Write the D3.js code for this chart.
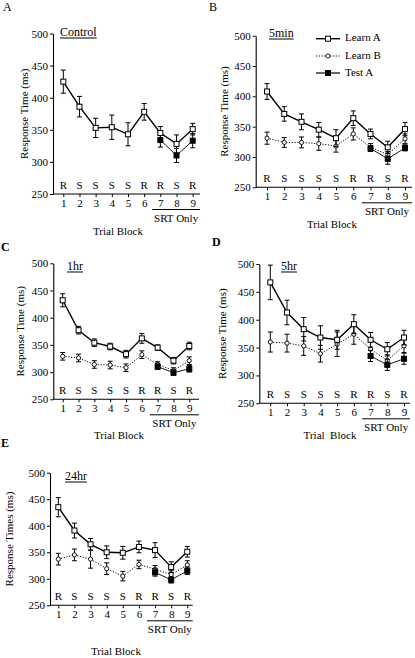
<!DOCTYPE html>
<html>
<head>
<meta charset="utf-8">
<script src="https://cdn.jsdelivr.net/npm/d3@7/dist/d3.min.js"></script>
<style>
  html, body { margin: 0; padding: 0; background: #fff; }
  svg text { font-family: "Liberation Serif", "DejaVu Serif", "Times New Roman", serif; }
</style>
</head>
<body>
<svg id="chart" width="415" height="658"></svg>
<script>
// ---------- data ----------
const trialBlocks = [1, 2, 3, 4, 5, 6, 7, 8, 9];
const trialTypes = ["R", "S", "S", "S", "S", "R", "R", "S", "R"];
const testBlocks = [7, 8, 9];
const yTickValues = [250, 300, 350, 400, 450, 500];
const seriesNames = ["Learn A", "Learn B", "Test A"];

// Panel A: Control
const controlLearnA = [425, 386, 353, 354, 343, 378, 345, 328, 351];
const controlLearnAErr = [18, 16, 15, 19, 18, 13, 10, 14, 9];
const controlTestA = [334, 310, 333];
const controlTestAErr = [11, 11, 11];

// Panel B: 5min
const min5LearnA = [408, 371, 358, 345, 331, 364, 338, 316, 346];
const min5LearnAErr = [13, 12, 13, 12, 14, 12, 8, 10, 11];
const min5LearnB = [331, 324, 324, 322, 318, 338, 316, 304, 330];
const min5LearnBErr = [10, 8, 9, 11, 10, 10, 6, 5, 8];
const min5TestA = [314, 297, 315];
const min5TestAErr = [5, 9, 5];

// Panel C: 1hr
const hr1LearnA = [432, 377, 354, 347, 333, 362, 345, 321, 348];
const hr1LearnAErr = [12, 7, 7, 6, 7, 9, 5, 6, 7];
const hr1LearnB = [329, 326, 314, 313, 308, 332, 314, 303, 321];
const hr1LearnBErr = [7, 7, 7, 7, 7, 7, 5, 5, 7];
const hr1TestA = [310, 299, 306];
const hr1TestAErr = [5, 5, 6];

// Panel D: 5hr
const hr5LearnA = [467, 413, 383, 368, 364, 392, 364, 347, 368];
const hr5LearnAErr = [31, 22, 21, 21, 17, 17, 13, 12, 13];
const hr5LearnB = [360, 358, 353, 339, 356, 374, 347, 327, 353];
const hr5LearnBErr = [18, 16, 17, 15, 22, 18, 13, 10, 12];
const hr5TestA = [335, 319, 330];
const hr5TestAErr = [10, 10, 10];

// Panel E: 24hr
const hr24LearnA = [435, 391, 365, 350, 349, 360, 354, 322, 351];
const hr24LearnAErr = [18, 14, 11, 12, 12, 11, 14, 10, 10];
const hr24LearnB = [337, 345, 337, 319, 305, 327, 318, 308, 326];
const hr24LearnBErr = [11, 11, 17, 11, 9, 8, 7, 7, 8];
const hr24TestA = [312, 298, 315];
const hr24TestAErr = [7, 6, 7];

// ---------- layout ----------
const panels = [
  { letter: "A", lx: 3, ly: 8, bold: false, cond: "Control", condX: 60, condY: 33,
    axisX: 53, axisEnd: 200, x1: 63.3, x9: 192.7, yTop: 33.5, yBot: 194,
    title: "Response Time (ms)", titleX: 25, trial: "Trial Block", trialX: 118, trialY: 232,
    learnA: controlLearnA, learnAErr: controlLearnAErr, learnB: null, learnBErr: null,
    testA: controlTestA, testAErr: controlTestAErr, legend: false },
  { letter: "B", lx: 209, ly: 8, bold: false, cond: "5min", condX: 269, condY: 34,
    axisX: 255.7, axisEnd: 412, x1: 267, x9: 405, yTop: 35.7, yBot: 187.3,
    title: "Response Time (ms)", titleX: 225.7, trial: "Trial Block", trialX: 332, trialY: 225,
    learnA: min5LearnA, learnAErr: min5LearnAErr, learnB: min5LearnB, learnBErr: min5LearnBErr,
    testA: min5TestA, testAErr: min5TestAErr, legend: true },
  { letter: "C", lx: 1, ly: 248, bold: true, cond: "1hr", condX: 67, condY: 267,
    axisX: 53.3, axisEnd: 199, x1: 62.7, x9: 189.3, yTop: 263.3, yBot: 399.3,
    title: "Response Time (ms)", titleX: 21.7, trial: "Trial Block", trialX: 119, trialY: 436,
    learnA: hr1LearnA, learnAErr: hr1LearnAErr, learnB: hr1LearnB, learnBErr: hr1LearnBErr,
    testA: hr1TestA, testAErr: hr1TestAErr, legend: false },
  { letter: "D", lx: 212, ly: 243, bold: true, cond: "5hr", condX: 281, condY: 267,
    axisX: 259.3, axisEnd: 410, x1: 270.3, x9: 404, yTop: 264, yBot: 403.3,
    title: "Response Time (ms)", titleX: 223.3, trial: "Trial  Block", trialX: 330, trialY: 436,
    learnA: hr5LearnA, learnAErr: hr5LearnAErr, learnB: hr5LearnB, learnBErr: hr5LearnBErr,
    testA: hr5TestA, testAErr: hr5TestAErr, legend: false },
  { letter: "E", lx: 1, ly: 444, bold: true, cond: "24hr", condX: 65, condY: 477,
    axisX: 50, axisEnd: 192.7, x1: 58.3, x9: 187.3, yTop: 472.7, yBot: 605.3,
    title: "Response Times (ms)", titleX: 10, trial: "Trial Block", trialX: 116, trialY: 652,
    learnA: hr24LearnA, learnAErr: hr24LearnAErr, learnB: hr24LearnB, learnBErr: hr24LearnBErr,
    testA: hr24TestA, testAErr: hr24TestAErr, legend: false }
];

const svg = d3.select("#chart");
const FS = 11;
const FONT = "Liberation Serif, DejaVu Serif, serif";

function txt(g) {
  return g.append("text").attr("font-family", FONT).attr("fill", "#000");
}

function underlinedText(g, s, x, y, size) {
  const t = txt(g).attr("x", x).attr("y", y).attr("font-size", size)
    .attr("dominant-baseline", "middle").text(s);
  const w = t.node().getComputedTextLength();
  g.append("line").attr("x1", x).attr("x2", x + w).attr("y1", y + 5).attr("y2", y + 5)
    .attr("stroke", "#000").attr("stroke-width", 1);
}

function drawMarker(g, type, cx, cy) {
  if (type === "Learn A") {
    g.append("rect").attr("x", cx - 2.5).attr("y", cy - 2.5).attr("width", 5).attr("height", 5)
      .attr("fill", "#fff").attr("stroke", "#000").attr("stroke-width", 1);
  } else if (type === "Learn B") {
    g.append("circle").attr("cx", cx).attr("cy", cy).attr("r", 2.1)
      .attr("fill", "#fff").attr("stroke", "#000").attr("stroke-width", 0.9);
  } else {
    g.append("rect").attr("x", cx - 2.5).attr("y", cy - 2.5).attr("width", 5).attr("height", 5)
      .attr("fill", "#000").attr("stroke", "#000").attr("stroke-width", 1);
  }
}

function drawSeries(g, x, y, blocks, vals, errs, type) {
  const pts = blocks.map((b, i) => ({ b, v: vals[i], e: errs[i] }));
  const eb = g.append("g");
  pts.forEach(p => {
    eb.append("line").attr("x1", x(p.b)).attr("x2", x(p.b))
      .attr("y1", y(p.v + p.e)).attr("y2", y(p.v - p.e)).attr("stroke", "#000").attr("stroke-width", 1);
    [p.v + p.e, p.v - p.e].forEach(val => {
      eb.append("line").attr("x1", x(p.b) - 2.5).attr("x2", x(p.b) + 2.5)
        .attr("y1", y(val)).attr("y2", y(val)).attr("stroke", "#000").attr("stroke-width", 1);
    });
  });
  const line = d3.line().x(p => x(p.b)).y(p => y(p.v));
  const path = g.append("path").datum(pts).attr("d", line).attr("fill", "none").attr("stroke", "#000");
  if (type === "Learn A") path.attr("stroke-width", 1.4);
  else if (type === "Learn B") path.attr("stroke-width", 1).attr("stroke-dasharray", "1.2,1.6");
  else path.attr("stroke-width", 0.9);
  pts.forEach(p => drawMarker(g, type, x(p.b), y(p.v)));
}

panels.forEach(P => {
  const g = svg.append("g");
  const x = d3.scaleLinear().domain([1, 9]).range([P.x1, P.x9]);
  const y = d3.scaleLinear().domain([250, 500]).range([P.yBot, P.yTop]);

  txt(g).attr("x", P.lx).attr("y", P.ly).attr("font-size", 12)
    .attr("font-weight", P.bold ? "bold" : "normal").attr("dominant-baseline", "middle").text(P.letter);

  const ya = g.append("g").attr("transform", `translate(${P.axisX},0)`)
    .call(d3.axisLeft(y).tickValues(yTickValues).tickSize(3).tickSizeOuter(0).tickPadding(2));
  ya.attr("font-family", FONT);
  ya.selectAll("text").attr("font-size", FS).attr("font-family", FONT);
  ya.select(".domain").attr("stroke-width", 1.1);

  const xa = g.append("g").attr("transform", `translate(0,${P.yBot})`)
    .call(d3.axisBottom(x).tickValues(trialBlocks).tickFormat(d3.format("d")).tickSize(3).tickPadding(2));
  xa.attr("font-family", FONT);
  xa.select(".domain").remove();
  xa.selectAll("text").attr("font-size", FS).attr("font-family", FONT);
  g.append("line").attr("x1", P.axisX).attr("x2", P.axisEnd).attr("y1", P.yBot).attr("y2", P.yBot)
    .attr("stroke", "#000").attr("stroke-width", 1.1);

  g.selectAll(".tt").data(trialBlocks).enter().append("text")
    .attr("font-family", FONT)
    .attr("x", d => x(d)).attr("y", P.yBot - 7.5).attr("text-anchor", "middle")
    .attr("dominant-baseline", "middle").attr("font-size", FS).text((d, i) => trialTypes[i]);

  const sy = P.yBot + 15.5;
  g.append("line").attr("x1", x(6.5)).attr("x2", P.axisEnd).attr("y1", sy).attr("y2", sy)
    .attr("stroke", "#000").attr("stroke-width", 1);
  txt(g).attr("x", (x(6.5) + P.axisEnd) / 2).attr("y", sy + 10).attr("text-anchor", "middle")
    .attr("dominant-baseline", "middle").attr("font-size", FS).text("SRT Only");

  txt(g).attr("x", P.trialX).attr("y", P.trialY).attr("text-anchor", "middle")
    .attr("dominant-baseline", "middle").attr("font-size", FS)
    .style("white-space", "pre").text(P.trial);

  const cy = (P.yTop + P.yBot) / 2;
  txt(g).attr("transform", `translate(${P.titleX},${cy}) rotate(-90)`)
    .attr("text-anchor", "middle").attr("dominant-baseline", "middle").attr("font-size", FS).text(P.title);

  underlinedText(g, P.cond, P.condX, P.condY, 12);

  if (P.learnB) drawSeries(g, x, y, trialBlocks, P.learnB, P.learnBErr, "Learn B");
  drawSeries(g, x, y, testBlocks, P.testA, P.testAErr, "Test A");
  drawSeries(g, x, y, trialBlocks, P.learnA, P.learnAErr, "Learn A");

  if (P.legend) {
    const lg = g.append("g");
    const rows = [38.7, 56, 73];
    seriesNames.forEach((name, i) => {
      const ly = rows[i];
      const l = lg.append("line").attr("x1", 316).attr("x2", 340).attr("y1", ly).attr("y2", ly).attr("stroke", "#000");
      if (name === "Learn A") l.attr("stroke-width", 1.4);
      else if (name === "Learn B") l.attr("stroke-width", 1).attr("stroke-dasharray", "1.2,1.6");
      else l.attr("stroke-width", 1.2);
      drawMarker(lg, name, 328, ly);
      txt(lg).attr("x", 345).attr("y", ly).attr("dominant-baseline", "middle")
        .attr("font-size", FS).text(name);
    });
  }
});
</script>
</body>
</html>
